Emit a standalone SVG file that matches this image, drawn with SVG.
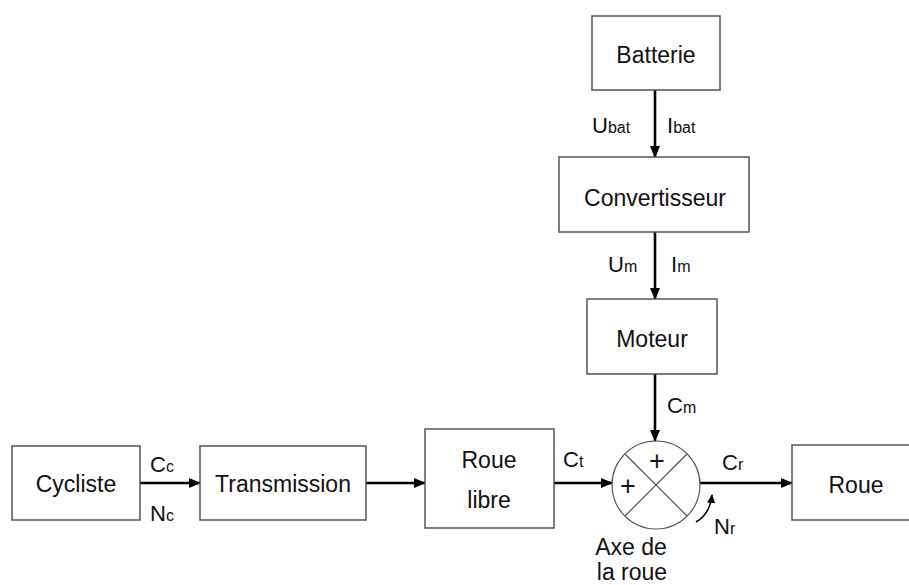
<svg xmlns="http://www.w3.org/2000/svg" width="909" height="585" viewBox="0 0 909 585">
<style>
.box{fill:#fff;stroke:#555;stroke-width:1.5}
.t{font-family:"Liberation Sans",Arial,sans-serif;font-size:23px;fill:#111}
.m{text-anchor:middle}
.lb{font-family:"Liberation Sans",Arial,sans-serif;font-size:22px;fill:#111}
.s{font-size:16px}
.p{font-family:"Liberation Sans",Arial,sans-serif;font-size:27px;fill:#111;text-anchor:middle}
.ar{stroke:#000;stroke-width:2.6;fill:none;marker-end:url(#ah)}
.thin{stroke:#555;stroke-width:1.2;fill:none}
</style>
<defs>
<marker id="ah" markerUnits="userSpaceOnUse" markerWidth="12" markerHeight="10" refX="11" refY="5" orient="auto">
<path d="M0,0 L12,5 L0,10 Z" fill="#000"/>
</marker>
<marker id="ah2" markerUnits="userSpaceOnUse" markerWidth="9" markerHeight="8" refX="8" refY="4" orient="auto">
<path d="M0,0 L9,4 L0,8 Z" fill="#000"/>
</marker>
</defs>
<rect width="909" height="585" fill="#fff"/>
<g id="connectors">
<line class="ar" x1="655" y1="90" x2="655" y2="157"/>
<line class="ar" x1="655" y1="232" x2="655" y2="299"/>
<line class="ar" x1="655" y1="374" x2="655" y2="441"/>
<line class="ar" x1="140" y1="483" x2="200" y2="483"/>
<line class="ar" x1="366" y1="483" x2="425" y2="483"/>
<line class="ar" x1="554" y1="483" x2="612" y2="483"/>
<line class="ar" x1="700" y1="483" x2="792" y2="483"/>
<path d="M696,522 Q710,514 712,495" stroke="#000" stroke-width="1.6" fill="none" marker-end="url(#ah2)"/>
<text class="lb" x="592" y="133">U<tspan class="s">bat</tspan></text>
<text class="lb" x="667" y="133">I<tspan class="s">bat</tspan></text>
<text class="lb" x="608" y="272">U<tspan class="s">m</tspan></text>
<text class="lb" x="671" y="272">I<tspan class="s">m</tspan></text>
<text class="lb" x="667" y="413">C<tspan class="s">m</tspan></text>
<text class="lb" x="150" y="472">C<tspan class="s">c</tspan></text>
<text class="lb" x="150" y="521">N<tspan class="s">c</tspan></text>
<text class="lb" x="563" y="467">C<tspan class="s">t</tspan></text>
<text class="lb" x="722" y="470">C<tspan class="s">r</tspan></text>
<text class="lb" x="714" y="534">N<tspan class="s">r</tspan></text>
</g>
<g id="batterie">
<rect class="box" x="592" y="16" width="128" height="74"/>
<text class="t m" x="656" y="63">Batterie</text>
</g>
<g id="convertisseur">
<rect class="box" x="559" y="157" width="190" height="75"/>
<text class="t m" x="655" y="206">Convertisseur</text>
</g>
<g id="moteur">
<rect class="box" x="587" y="299" width="130" height="75"/>
<text class="t m" x="652" y="347">Moteur</text>
</g>
<g id="cycliste">
<rect class="box" x="12" y="446" width="128" height="74"/>
<text class="t m" x="76" y="492">Cycliste</text>
</g>
<g id="transmission">
<rect class="box" x="200" y="446" width="166" height="74"/>
<text class="t m" x="283" y="492">Transmission</text>
</g>
<g id="roue-libre">
<rect class="box" x="425" y="429" width="129" height="99"/>
<text class="t m" x="489" y="468">Roue</text>
<text class="t m" x="489" y="508">libre</text>
</g>
<g id="axe">
<circle class="thin" cx="656" cy="485" r="44"/>
<line class="thin" x1="625" y1="454" x2="687" y2="516"/>
<line class="thin" x1="687" y1="454" x2="625" y2="516"/>
<text class="p" x="657" y="470">+</text>
<text class="p" x="628" y="495">+</text>
<text class="t m" x="631" y="555">Axe de</text>
<text class="t m" x="632" y="580">la roue</text>
</g>
<g id="roue">
<rect class="box" x="792" y="445" width="125" height="75"/>
<text class="t m" x="856" y="493">Roue</text>
</g>
</svg>
